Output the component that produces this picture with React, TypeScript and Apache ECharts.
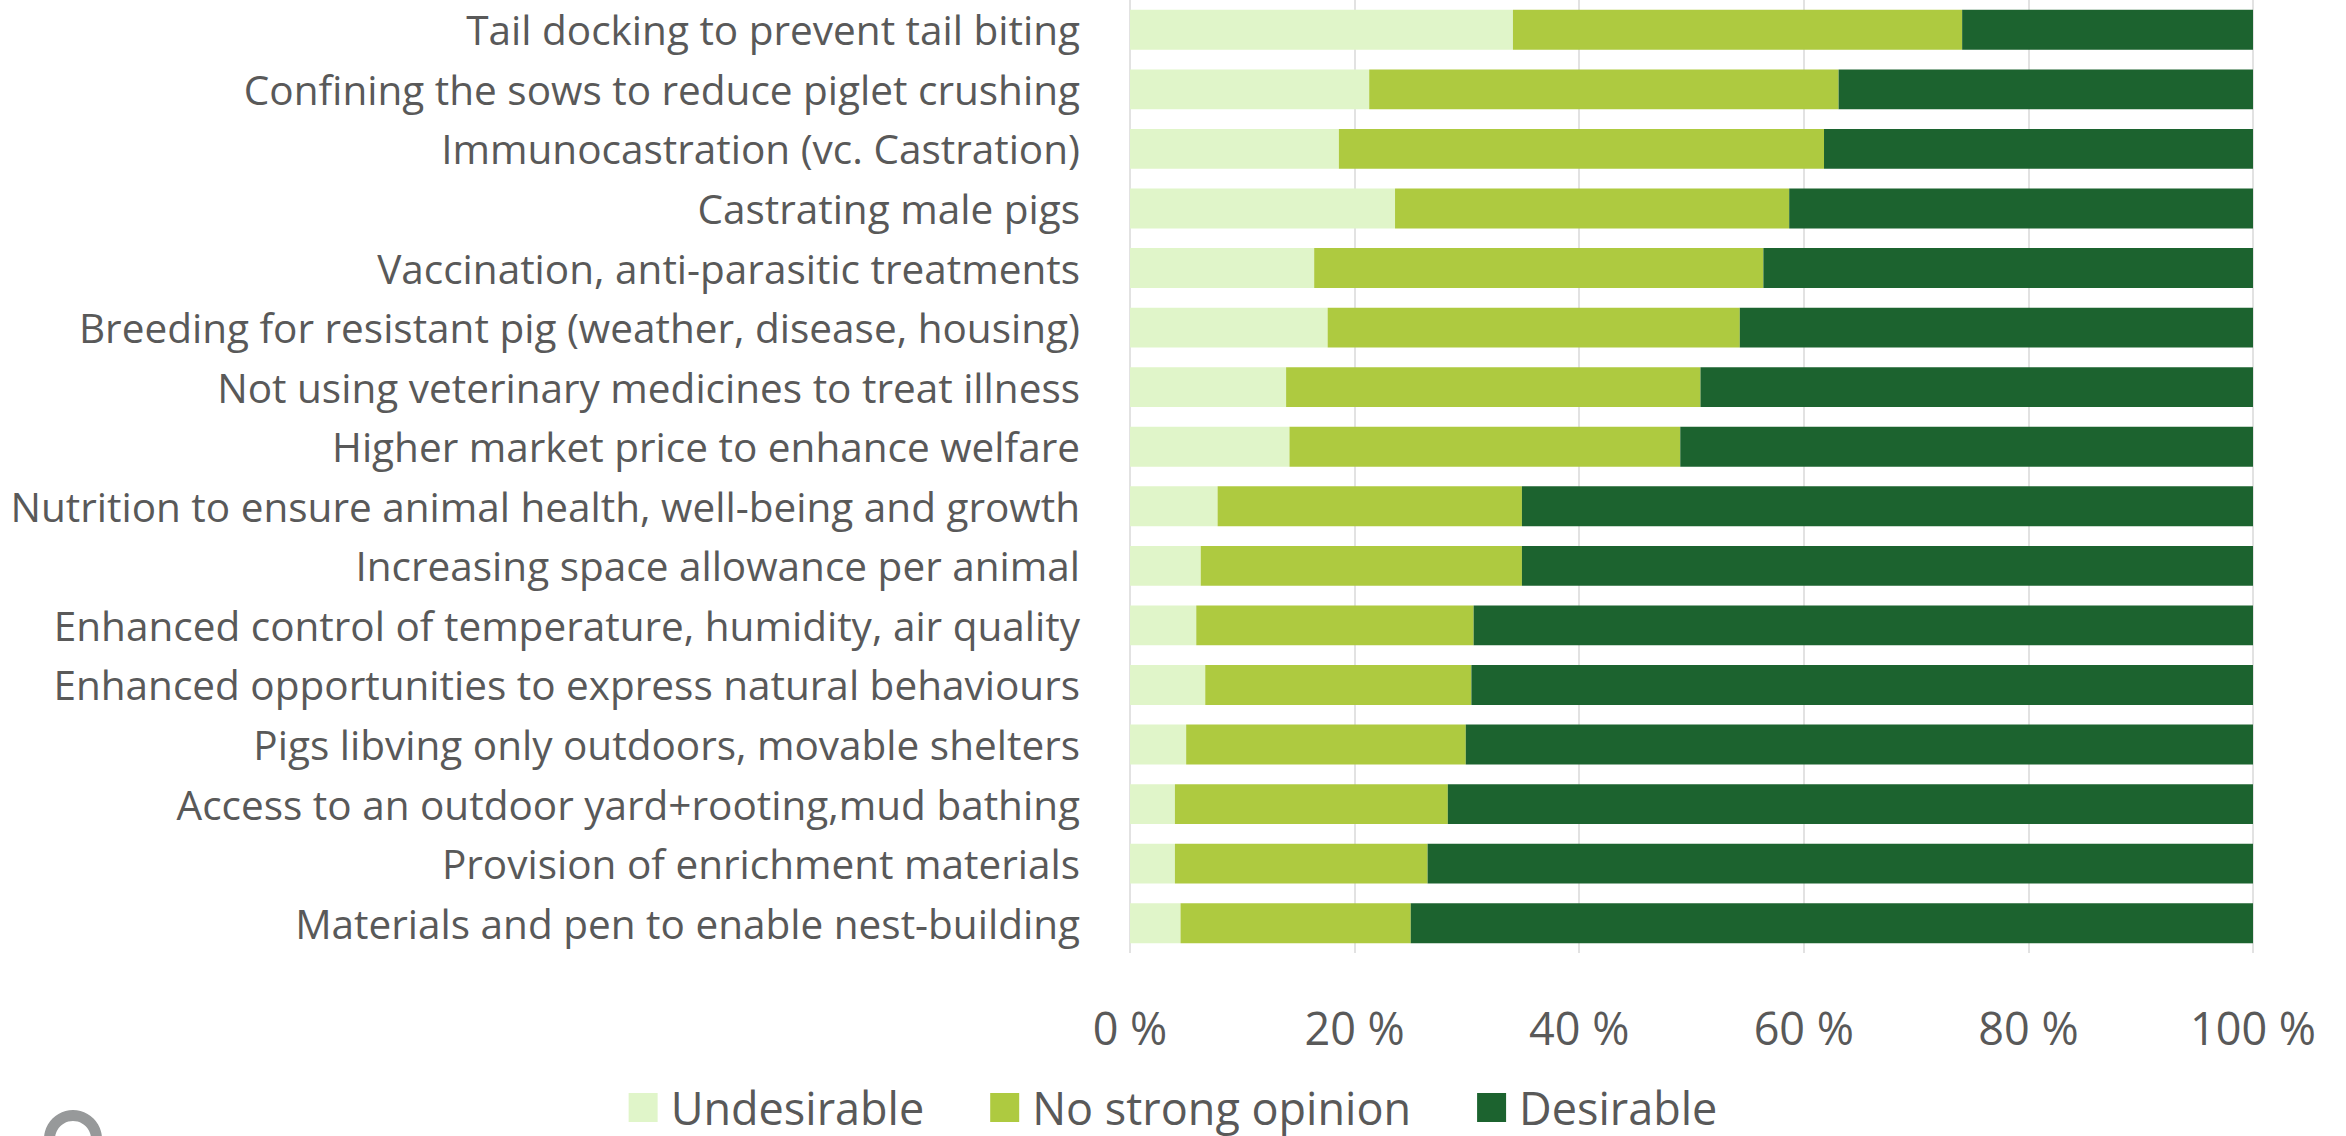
import React, { useEffect, useRef } from "react";
import * as echarts from "echarts";

const categories = [
  "Tail docking to prevent tail biting",
  "Confining the sows to reduce piglet crushing",
  "Immunocastration (vc. Castration)",
  "Castrating male pigs",
  "Vaccination, anti-parasitic treatments",
  "Breeding for resistant pig (weather, disease, housing)",
  "Not using veterinary medicines to treat illness",
  "Higher market price to enhance welfare",
  "Nutrition to ensure animal health, well-being and growth",
  "Increasing space allowance per animal",
  "Enhanced control of temperature, humidity, air quality",
  "Enhanced opportunities to express natural behaviours",
  "Pigs libving only outdoors, movable shelters",
  "Access to an outdoor yard+rooting,mud bathing",
  "Provision of enrichment materials",
  "Materials and pen to enable nest-building",
];

const undesirable = [34.1, 21.3, 18.6, 23.6, 16.4, 17.6, 13.9, 14.2, 7.8, 6.3, 5.9, 6.7, 5.0, 4.0, 4.0, 4.5];
const noOpinion = [40.0, 41.8, 43.2, 35.1, 40.0, 36.7, 36.9, 34.8, 27.1, 28.6, 24.7, 23.7, 24.9, 24.3, 22.5, 20.5];
const desirable = [25.9, 36.9, 38.2, 41.3, 43.6, 45.7, 49.2, 51.0, 65.1, 65.1, 69.4, 69.6, 70.1, 71.7, 73.5, 75.0];

const seriesNames = ["Undesirable", "No strong opinion", "Desirable"];
const seriesColors = ["#E0F5C9", "#AECA40", "#1C632F"];

const FONT = "'Open Sans', 'Noto Sans', sans-serif";
const TEXT = "#595959";

export default function App() {
  const ref = useRef<HTMLDivElement>(null);

  useEffect(() => {
    document.body.style.margin = "0";
    if (!ref.current) return;
    const chart = echarts.init(ref.current, null, { renderer: "svg" });
    const data = [undesirable, noOpinion, desirable];
    chart.setOption({
      animation: false,
      backgroundColor: "#ffffff",
      textStyle: { fontFamily: FONT },
      grid: { left: 1130, right: 93, top: -7, height: 960, containLabel: false },
      legend: {
        left: "center",
        top: 1080,
        itemWidth: 29,
        itemHeight: 29,
        itemGap: 66,
        icon: "rect",
        textStyle: { fontSize: 45, color: TEXT, fontFamily: FONT, padding: [0, 0, 0, 8] },
        data: seriesNames,
      },
      xAxis: {
        type: "value",
        min: 0,
        max: 100,
        interval: 20,
        axisLine: { show: false },
        axisTick: { show: false },
        splitLine: { show: true, lineStyle: { color: "#D9D9D9", width: 1.5 } },
        axisLabel: {
          formatter: (v: number) => `${v} %`,
          fontSize: 45,
          color: TEXT,
          margin: 52,
          fontFamily: FONT,
        },
      },
      yAxis: {
        type: "category",
        inverse: true,
        data: categories,
        axisLine: { show: false },
        axisTick: { show: false },
        splitLine: { show: false },
        axisLabel: { fontSize: 40.5, color: TEXT, margin: 50, fontFamily: FONT },
      },
      series: seriesNames.map((name, i) => ({
        name,
        type: "bar",
        stack: "total",
        barCategoryGap: "33%",
        itemStyle: { color: seriesColors[i] },
        data: data[i],
      })),
      graphic: [
        {
          type: "ring",
          shape: { cx: 73, cy: 1139, r: 29, r0: 18 },
          style: { fill: "#97999A" },
        },
      ],
    });
    return () => chart.dispose();
  }, []);

  return <div ref={ref} style={{ width: 2346, height: 1136 }} />;
}
